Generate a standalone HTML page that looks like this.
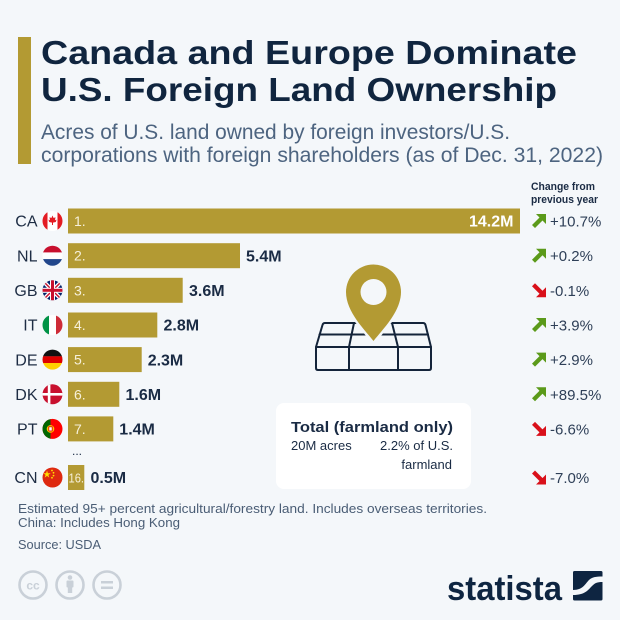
<!DOCTYPE html>
<html><head><meta charset="utf-8"><style>
html,body{margin:0;padding:0;background:#f4f7fa;}
svg{display:block;}
text{font-family:"Liberation Sans",sans-serif;}
</style></head><body>
<svg width="620" height="620" viewBox="0 0 620 620" xmlns="http://www.w3.org/2000/svg">
<defs>
<clipPath id="c1"><circle cx="52.5" cy="221" r="10"/></clipPath>
<clipPath id="c2"><circle cx="52.5" cy="255.7" r="10"/></clipPath>
<clipPath id="c3"><circle cx="52.5" cy="290.3" r="10"/></clipPath>
<clipPath id="c4"><circle cx="52.5" cy="325" r="10"/></clipPath>
<clipPath id="c5"><circle cx="52.5" cy="359.6" r="10"/></clipPath>
<clipPath id="c6"><circle cx="52.5" cy="394.3" r="10"/></clipPath>
<clipPath id="c7"><circle cx="52.5" cy="428.9" r="10"/></clipPath>
<clipPath id="c8"><circle cx="52.5" cy="477.5" r="10"/></clipPath>
</defs>
<rect width="620" height="620" fill="#f4f7fa"/>
<!-- header -->
<rect x="18" y="37" width="13" height="127" fill="#b39a33"/>
<text x="41" y="64" font-size="33" font-weight="bold" fill="#10253f" textLength="536" lengthAdjust="spacingAndGlyphs">Canada and Europe Dominate</text>
<text x="41" y="101" font-size="33" font-weight="bold" fill="#10253f" textLength="516" lengthAdjust="spacingAndGlyphs">U.S. Foreign Land Ownership</text>
<text x="41" y="139" font-size="21" fill="#4d6480" textLength="469" lengthAdjust="spacingAndGlyphs">Acres of U.S. land owned by foreign investors/U.S.</text>
<text x="41" y="162" font-size="21" fill="#4d6480" textLength="562" lengthAdjust="spacingAndGlyphs">corporations with foreign shareholders (as of Dec. 31, 2022)</text>

<!-- change header -->
<text x="531" y="190" font-size="11" font-weight="bold" fill="#1a2b44" textLength="64" lengthAdjust="spacingAndGlyphs">Change from</text>
<text x="531" y="203" font-size="11" font-weight="bold" fill="#1a2b44" textLength="67" lengthAdjust="spacingAndGlyphs">previous year</text>

<!-- bars -->
<g fill="#b39a33">
<rect x="68" y="208.5" width="452" height="25"/>
<rect x="68" y="243.2" width="172" height="25"/>
<rect x="68" y="277.8" width="114.7" height="25"/>
<rect x="68" y="312.5" width="89.3" height="25"/>
<rect x="68" y="347.1" width="73.7" height="25"/>
<rect x="68" y="381.8" width="51.3" height="25"/>
<rect x="68" y="416.4" width="45.3" height="25"/>
<rect x="68" y="465" width="16.3" height="25"/>
</g>
<g font-size="14" fill="#f6f0da">
<text x="74" y="226">1.</text>
<text x="74" y="260.7">2.</text>
<text x="74" y="295.3">3.</text>
<text x="74" y="330">4.</text>
<text x="74" y="364.6">5.</text>
<text x="74" y="399.3">6.</text>
<text x="74" y="433.9">7.</text>
<text x="68.5" y="482.5" font-size="13" textLength="15.5" lengthAdjust="spacingAndGlyphs">16.</text>
</g>
<g font-size="16" font-weight="bold" fill="#1a2b44">
<text x="469" y="226.7" fill="#ffffff">14.2M</text>
<text x="246" y="261.4">5.4M</text>
<text x="189" y="296">3.6M</text>
<text x="163.5" y="330.7">2.8M</text>
<text x="147.7" y="365.3">2.3M</text>
<text x="125.5" y="400">1.6M</text>
<text x="119.3" y="434.6">1.4M</text>
<text x="90.5" y="483.2">0.5M</text>
</g>
<text x="72" y="455" font-size="12" fill="#1a2b44">...</text>

<!-- country codes -->
<g font-size="16" fill="#1e2d44" text-anchor="end">
<text x="37.5" y="226.7">CA</text>
<text x="37.5" y="261.4">NL</text>
<text x="37.5" y="296">GB</text>
<text x="37.5" y="330.7">IT</text>
<text x="37.5" y="365.3">DE</text>
<text x="37.5" y="400">DK</text>
<text x="37.5" y="434.6">PT</text>
<text x="37.5" y="483.2">CN</text>
</g>

<!-- flags -->
<g clip-path="url(#c1)">
<rect x="42" y="210" width="21" height="22" fill="#ffffff"/>
<rect x="42" y="210" width="5.5" height="22" fill="#e31b23"/>
<rect x="57.5" y="210" width="5.5" height="22" fill="#e31b23"/>
<polygon points="52.5,215.5 53.6,218 55.5,217.3 55,220.2 56.6,219.6 55.8,222 53,222.6 53,225 52,225 52,222.6 49.2,222 48.4,219.6 50,220.2 49.5,217.3 51.4,218" fill="#e31b23"/>
</g>
<g clip-path="url(#c2)">
<rect x="42" y="245" width="21" height="7.5" fill="#c8102e"/>
<rect x="42" y="252.4" width="21" height="6.8" fill="#ffffff"/>
<rect x="42" y="259.1" width="21" height="7.5" fill="#21468b"/>
</g>
<g clip-path="url(#c3)">
<rect x="42" y="280" width="21" height="21" fill="#012169"/>
<line x1="42" y1="280" x2="63" y2="301" stroke="#fff" stroke-width="4"/>
<line x1="63" y1="280" x2="42" y2="301" stroke="#fff" stroke-width="4"/>
<line x1="42" y1="280" x2="63" y2="301" stroke="#c8102e" stroke-width="1.4"/>
<line x1="63" y1="280" x2="42" y2="301" stroke="#c8102e" stroke-width="1.4"/>
<rect x="42" y="287.8" width="21" height="5" fill="#fff"/>
<rect x="50" y="280" width="5" height="21" fill="#fff"/>
<rect x="42" y="288.8" width="21" height="3" fill="#c8102e"/>
<rect x="51" y="280" width="3" height="21" fill="#c8102e"/>
</g>
<g clip-path="url(#c4)">
<rect x="42" y="314" width="7" height="22" fill="#009246"/>
<rect x="49" y="314" width="7" height="22" fill="#ffffff"/>
<rect x="56" y="314" width="7" height="22" fill="#ce2b37"/>
</g>
<g clip-path="url(#c5)">
<rect x="42" y="349" width="21" height="7.4" fill="#111111"/>
<rect x="42" y="356.3" width="21" height="6.7" fill="#dd0000"/>
<rect x="42" y="363" width="21" height="7.4" fill="#ffce00"/>
</g>
<g clip-path="url(#c6)">
<rect x="42" y="384" width="21" height="21" fill="#c8102e"/>
<rect x="47.8" y="384" width="2.6" height="21" fill="#fff"/>
<rect x="42" y="393" width="21" height="2.6" fill="#fff"/>
</g>
<g clip-path="url(#c7)">
<rect x="42" y="418" width="21" height="22" fill="#ff0000"/>
<rect x="42" y="418" width="8.5" height="22" fill="#006600"/>
<circle cx="50.5" cy="428.9" r="3.8" fill="#ffcc00"/>
<rect x="48.8" y="426.8" width="3.4" height="4.2" fill="#ffffff" stroke="#d00" stroke-width="0.8"/>
</g>
<g clip-path="url(#c8)">
<rect x="42" y="467" width="21" height="22" fill="#de2910"/>
<polygon points="47,470.5 47.9,473.2 50.7,473.2 48.4,474.9 49.3,477.6 47,475.9 44.7,477.6 45.6,474.9 43.3,473.2 46.1,473.2" fill="#ffde00"/>
<circle cx="52" cy="470.5" r="0.9" fill="#ffde00"/>
<circle cx="53.5" cy="472.8" r="0.9" fill="#ffde00"/>
<circle cx="53.5" cy="475.6" r="0.9" fill="#ffde00"/>
<circle cx="52" cy="477.8" r="0.9" fill="#ffde00"/>
</g>

<!-- change arrows -->
<g fill="#5b9a1a">
<polygon transform="translate(532,214)" points="4,0 14,0 14,10 10.5,6.5 3,14 0,11 7.5,3.5"/>
<polygon transform="translate(532,248.7)" points="4,0 14,0 14,10 10.5,6.5 3,14 0,11 7.5,3.5"/>
<polygon transform="translate(532,318)" points="4,0 14,0 14,10 10.5,6.5 3,14 0,11 7.5,3.5"/>
<polygon transform="translate(532,352.6)" points="4,0 14,0 14,10 10.5,6.5 3,14 0,11 7.5,3.5"/>
<polygon transform="translate(532,387.3)" points="4,0 14,0 14,10 10.5,6.5 3,14 0,11 7.5,3.5"/>
</g>
<g fill="#d9101a">
<polygon transform="translate(532,283.3)" points="4,14 14,14 14,4 10.5,7.5 3,0 0,3 7.5,10.5"/>
<polygon transform="translate(532,421.9)" points="4,14 14,14 14,4 10.5,7.5 3,0 0,3 7.5,10.5"/>
<polygon transform="translate(532,470.5)" points="4,14 14,14 14,4 10.5,7.5 3,0 0,3 7.5,10.5"/>
</g>
<g font-size="15" fill="#2e3f57">
<text x="550" y="226.5">+10.7%</text>
<text x="550" y="261.2">+0.2%</text>
<text x="550" y="295.8">-0.1%</text>
<text x="550" y="330.5">+3.9%</text>
<text x="550" y="365.1">+2.9%</text>
<text x="550" y="399.8">+89.5%</text>
<text x="550" y="434.4">-6.6%</text>
<text x="550" y="483">-7.0%</text>
</g>

<!-- map icon -->
<g fill="none" stroke="#14243a" stroke-width="2" stroke-linejoin="round" stroke-linecap="round">
<path d="M316,347 L431,347 L431,368 Q431,370 429,370 L318,370 Q316,370 316,368 Z"/>
<path d="M316,347 L322.5,325 Q323,323 325,323 L423,323 Q425,323 425.5,325 L431,347"/>
<line x1="354" y1="323" x2="349" y2="347"/>
<line x1="392" y1="323" x2="398" y2="347"/>
<line x1="349" y1="347" x2="349" y2="370"/>
<line x1="398" y1="347" x2="398" y2="370"/>
<line x1="319.5" y1="334.5" x2="428" y2="334.5"/>
</g>
<path d="M373.5,341 C365,330 346,312 346,292 A27.5,27.5 0 1 1 401,292 C401,312 382,330 373.5,341 Z" fill="#b39a33" stroke="#f4f7fa" stroke-width="5"/>
<path d="M373.5,341 C365,330 346,312 346,292 A27.5,27.5 0 1 1 401,292 C401,312 382,330 373.5,341 Z" fill="#b39a33"/>
<circle cx="373.5" cy="292" r="13" fill="#f4f7fa"/>

<!-- total box -->
<rect x="276" y="403" width="195" height="86" rx="8" fill="#ffffff"/>
<text x="291" y="432" font-size="15" font-weight="bold" fill="#1a2b44" textLength="162" lengthAdjust="spacingAndGlyphs">Total (farmland only)</text>
<text x="291" y="450" font-size="13" fill="#1a2b44">20M acres</text>
<text x="453" y="450" font-size="13" fill="#1a2b44" text-anchor="end">2.2% of U.S.</text>
<text x="452" y="469" font-size="13" fill="#1a2b44" text-anchor="end">farmland</text>

<!-- footer -->
<text x="18" y="513" font-size="12.5" fill="#4a5d75" textLength="469" lengthAdjust="spacingAndGlyphs">Estimated 95+ percent agricultural/forestry land. Includes overseas territories.</text>
<text x="18" y="527" font-size="12.5" fill="#4a5d75" textLength="162" lengthAdjust="spacingAndGlyphs">China: Includes Hong Kong</text>
<text x="18" y="549" font-size="12.5" fill="#4a5d75" textLength="83" lengthAdjust="spacingAndGlyphs">Source: USDA</text>

<!-- cc icons -->
<g fill="none" stroke="#c9d0d8" stroke-width="2.6">
<circle cx="33" cy="585" r="13.5"/>
<circle cx="70" cy="585" r="13.5"/>
<circle cx="107" cy="585" r="13.5"/>
</g>
<text x="33" y="589.5" font-size="12" font-weight="bold" fill="#c9d0d8" text-anchor="middle">cc</text>
<circle cx="70" cy="577.5" r="2.3" fill="#c9d0d8"/>
<rect x="66.5" y="580.5" width="7" height="7" rx="1" fill="#c9d0d8"/>
<rect x="67.8" y="587" width="4.4" height="6" fill="#c9d0d8"/>
<rect x="101" y="581" width="12" height="2.5" fill="#c9d0d8"/>
<rect x="101" y="586.5" width="12" height="2.5" fill="#c9d0d8"/>

<!-- statista logo -->
<text x="447" y="600" font-size="34" font-weight="bold" fill="#0e2541" textLength="115" lengthAdjust="spacingAndGlyphs">statista</text>
<rect x="573" y="571" width="29.5" height="29.5" rx="1.5" fill="#0e2541"/>
<path d="M573,590 C583,590 585,584 589,580 C592,577 596,576.5 602.5,576.5 L602.5,582 C597,582 595,583 592,586 C588,590 585,595 573,595 Z" fill="#f4f7fa"/>
</svg>
</body></html>
